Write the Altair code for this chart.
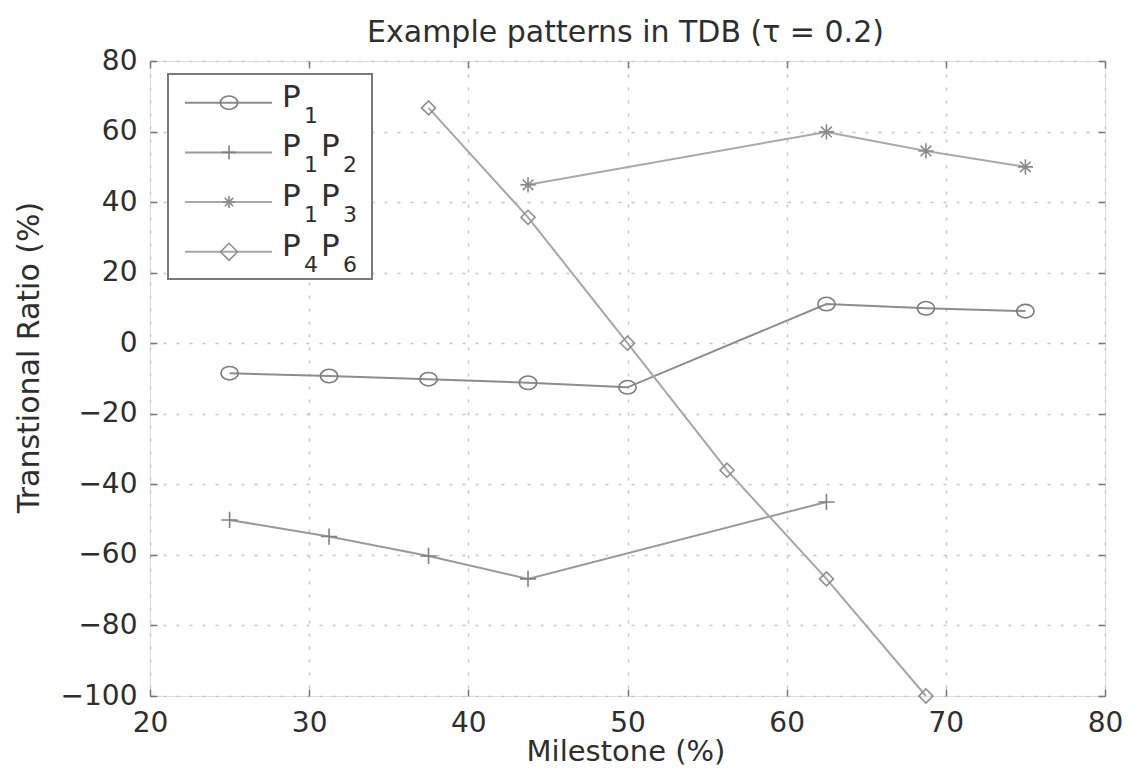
import altair as alt
import pandas as pd

# ---- data ----
series = ["P1", "P1P2", "P1P3", "P4P6"]

milestone_p1 = [25, 31.25, 37.5, 43.75, 50, 62.5, 68.75, 75]
ratio_p1 = [-8.5, -9.3, -10.2, -11.2, -12.5, 11.1, 9.9, 9.1]

milestone_p1p2 = [25, 31.25, 37.5, 43.75, 62.5]
ratio_p1p2 = [-50.1, -54.8, -60.3, -66.8, -45.0]

milestone_p1p3 = [43.75, 62.5, 68.75, 75]
ratio_p1p3 = [44.9, 59.9, 54.5, 50.0]

milestone_p4p6 = [37.5, 43.75, 50, 56.25, 62.5, 68.75]
ratio_p4p6 = [66.7, 35.7, 0.0, -36.0, -66.8, -100.0]

# legend labels: (letter, subscript) pairs
legend_parts = [
    [("P", "1")],
    [("P", "1"), ("P", "2")],
    [("P", "1"), ("P", "3")],
    [("P", "4"), ("P", "6")],
]

x_ticks = [20, 30, 40, 50, 60, 70, 80]
y_ticks = [-100, -80, -60, -40, -20, 0, 20, 40, 60, 80]

title_text = "Example patterns in TDB (\u03c4 = 0.2)"
x_title = "Milestone (%)"
y_title = "Transtional Ratio (%)"

# ---- styling ----
FONT = "DejaVu Sans"
TXT = "#2e2e2e"
line_colors = ["#8c8c8c", "#999999", "#a9a9a9", "#a6a6a6"]
marker_colors = ["#7c7c7c", "#808080", "#8a8a8a", "#8f8f8f"]
ellipse = "M-1,0A1,0.78 0 1,0 1,0A1,0.78 0 1,0 -1,0Z"
plus = "M-1,0L1,0M0,-1L0,1"
asterisk = "M-1,0L1,0M0,-1L0,1M-0.7,-0.7L0.7,0.7M-0.7,0.7L0.7,-0.7"
shapes = [ellipse, plus, asterisk, "diamond"]
sizes = [300, 196, 144, 289]

W, H = 955, 635

rows = []
for name, xs, ys in [("P1", milestone_p1, ratio_p1),
                     ("P1P2", milestone_p1p2, ratio_p1p2),
                     ("P1P3", milestone_p1p3, ratio_p1p3),
                     ("P4P6", milestone_p4p6, ratio_p4p6)]:
    for xv, yv in zip(xs, ys):
        rows.append({"series": name, "milestone": xv, "ratio": yv})
df = pd.DataFrame(rows)

xscale = alt.Scale(domain=[20, 80], nice=False, zero=False)
yscale = alt.Scale(domain=[-100, 80], nice=False, zero=False)

grid_kw = dict(grid=True, gridColor="#c6c6c6", gridDash=[3, 10], gridWidth=1.5)

main_x_axis = alt.Axis(
    values=x_ticks, title=x_title, labelFont=FONT, labelFontSize=28,
    labelColor=TXT, labelPadding=13, ticks=False, tickSize=0, domain=False,
    titleFont=FONT, titleFontSize=29, titleFontWeight="normal", titleColor=TXT,
    titleX=W / 2 - 2, titleY=64, titleBaseline="alphabetic", titleAlign="center",
    labelFlush=False, labelOverlap=False, **grid_kw)
main_y_axis = alt.Axis(
    values=y_ticks, title=y_title, labelFont=FONT, labelFontSize=28,
    labelColor=TXT, labelPadding=13, ticks=False, tickSize=0, domain=False,
    titleFont=FONT, titleFontSize=30, titleFontWeight="normal", titleColor=TXT,
    titleX=-112, titleY=296, titleAngle=270, titleBaseline="alphabetic",
    titleAlign="center", labelFlush=False, labelOverlap=False, **grid_kw)


def tick_axis(orient, vals):
    return alt.Axis(orient=orient, values=vals, labels=False, title=None,
                    domain=False, grid=False, ticks=True, tickSize=7,
                    tickColor="#777777", tickWidth=1.5, offset=-7)


lines = alt.Chart(df).mark_line(strokeWidth=2).encode(
    x=alt.X("milestone:Q", scale=xscale, axis=main_x_axis),
    y=alt.Y("ratio:Q", scale=yscale, axis=main_y_axis),
    color=alt.Color("series:N", scale=alt.Scale(domain=series, range=line_colors), legend=None),
    detail="series:N",
)

points = alt.Chart(df).mark_point(filled=False, strokeWidth=1.6, opacity=1).encode(
    x=alt.X("milestone:Q", scale=xscale, axis=tick_axis("top", x_ticks)),
    y=alt.Y("ratio:Q", scale=yscale, axis=tick_axis("right", y_ticks)),
    shape=alt.Shape("series:N", scale=alt.Scale(domain=series, range=shapes), legend=None),
    size=alt.Size("series:N", scale=alt.Scale(domain=series, range=sizes), legend=None),
    stroke=alt.Stroke("series:N", scale=alt.Scale(domain=series, range=marker_colors), legend=None),
)

ticks_layer = alt.Chart(df).mark_point(opacity=0).encode(
    x=alt.X("milestone:Q", scale=xscale, axis=tick_axis("bottom", x_ticks)),
    y=alt.Y("ratio:Q", scale=yscale, axis=tick_axis("left", y_ticks)),
)

one = pd.DataFrame({"k": [0]})

# chart title as a text mark placed above the plot area
title_layer = alt.Chart(one).mark_text(
    text=title_text, font=FONT, fontSize=30, color=TXT, align="center",
    baseline="alphabetic").encode(x=alt.value(W / 2 - 2), y=alt.value(-19))

# ---- manual legend (for subscripts) ----
leg_layers = [
    alt.Chart(one).mark_rect(fill="white", stroke="#7a7a7a", strokeWidth=2).encode(
        x=alt.value(18), x2=alt.value(222), y=alt.value(13), y2=alt.value(218))
]
row0, row_step = 41.7, 49.7
for i, name in enumerate(series):
    ry = row0 + row_step * i
    leg_layers.append(alt.Chart(one).mark_rule(color=line_colors[i], strokeWidth=2).encode(
        x=alt.value(35), x2=alt.value(122), y=alt.value(ry)))
    leg_layers.append(alt.Chart(one).mark_point(
        shape=shapes[i], size=sizes[i], filled=False, stroke=marker_colors[i],
        strokeWidth=1.6, opacity=1).encode(x=alt.value(79), y=alt.value(ry)))
    x0 = 132
    for letter, sub in legend_parts[i]:
        leg_layers.append(alt.Chart(one).mark_text(
            text=letter, font=FONT, fontSize=31, color=TXT, align="left",
            baseline="alphabetic").encode(x=alt.value(x0), y=alt.value(ry + 4)))
        leg_layers.append(alt.Chart(one).mark_text(
            text=sub, font=FONT, fontSize=22, color=TXT, align="left",
            baseline="alphabetic").encode(x=alt.value(x0 + 22), y=alt.value(ry + 20)))
        x0 += 39

chart = alt.layer(lines, points, ticks_layer, title_layer, *leg_layers).resolve_axis(
    x="independent", y="independent"
).properties(
    width=W, height=H,
    padding={"left": 142, "top": 53, "right": 20, "bottom": 70},
    autosize=alt.AutoSizeParams(type="none"),
).configure_view(stroke="#777777", strokeWidth=2).configure(background="white")

chart.save("out.html", embed_options={"renderer": "svg", "actions": False})
